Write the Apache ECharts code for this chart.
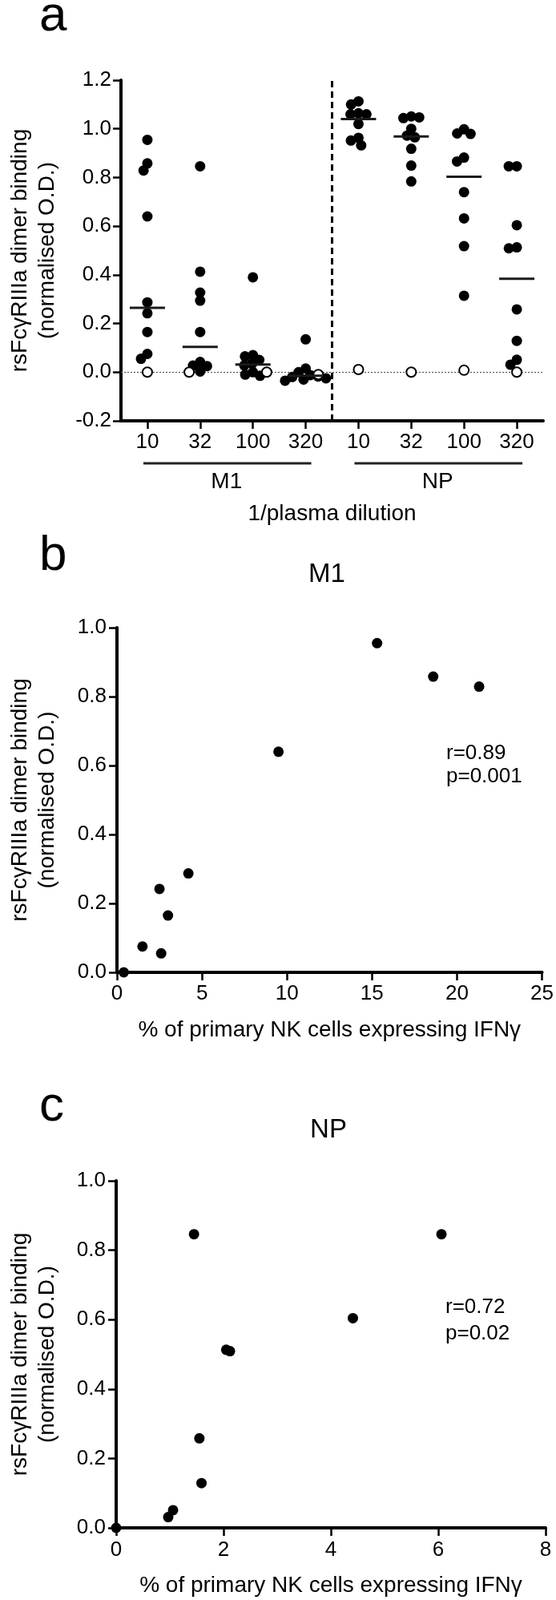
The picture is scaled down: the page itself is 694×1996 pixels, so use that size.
<!DOCTYPE html>
<html><head><meta charset="utf-8">
<script src="https://cdn.jsdelivr.net/npm/echarts@6/dist/echarts.min.js"></script>
<style>html,body{margin:0;padding:0;background:#fff}#c{width:694px;height:1996px}</style>
</head><body><div id="c"></div>
<script>
// ---------- data ----------
const dilutions = ['10', '32', '100', '320'];
const antigens = ['M1', 'NP'];
// panel a: normalised O.D. of plasma samples (filled circles)
const m1Dil10  = [0.955, 0.858, 0.829, 0.640, 0.287, 0.242, 0.165, 0.075, 0.055];
const m1Dil32  = [0.846, 0.413, 0.327, 0.294, 0.165, 0.042, 0.027, 0.025, 0.003];
const m1Dil100 = [0.390, 0.070, 0.065, 0.050, 0.035, 0.028, 0.000, -0.010, -0.015];
const m1Dil320 = [0.135, 0.015, 0.000, -0.012, -0.018, -0.020, -0.025, -0.030, -0.035];
const npDil10  = [1.113, 1.100, 1.064, 1.060, 1.060, 1.020, 0.963, 0.952, 0.932];
const npDil32  = [1.051, 1.047, 1.044, 1.000, 0.972, 0.965, 0.918, 0.849, 0.784];
const npDil100 = [0.998, 0.981, 0.979, 0.882, 0.866, 0.740, 0.632, 0.518, 0.314];
const npDil320 = [0.846, 0.846, 0.604, 0.513, 0.509, 0.258, 0.129, 0.051, 0.031];
// panel a: control sample (open circles), one per dilution
const m1Control = [0.000, 0.000, 0.000, -0.010];
const npControl = [0.011, 0.000, 0.008, 0.000];
// panel b: M1
const m1IfngPct = [0.4, 1.5, 2.5, 2.6, 3.0, 4.2, 9.5, 15.3, 18.6, 21.3];
const m1Binding = [0.000, 0.075, 0.242, 0.055, 0.165, 0.287, 0.640, 0.955, 0.858, 0.829];
// panel c: NP
const npIfngPct = [0.0, 0.97, 1.06, 1.45, 1.55, 1.59, 2.05, 2.12, 4.41, 6.06];
const npBinding = [0.000, 0.031, 0.051, 0.846, 0.258, 0.129, 0.513, 0.509, 0.604, 0.846];
const yTitle = 'rsFc\u03b3RIIIa dimer binding\n(normalised O.D.)';
const xTitle = '% of primary NK cells expressing IFN\u03b3';

// ---------- build ----------
const FONT = 'Liberation Sans, Arial, sans-serif';
const cats = [];
antigens.forEach(g => dilutions.forEach(d => cats.push(g + ' ' + d)));
const filledGroups = [m1Dil10, m1Dil32, m1Dil100, m1Dil320, npDil10, npDil32, npDil100, npDil320];
const controls = m1Control.concat(npControl);
const filledData = [], ctrlData = [], medianData = [];
filledGroups.forEach((vals, i) => {
  vals.forEach(v => filledData.push([cats[i], v]));
  ctrlData.push([cats[i], controls[i]]);
  const all = vals.concat([controls[i]]).sort((a, b) => a - b);
  const n = all.length;
  const med = n % 2 ? all[(n - 1) / 2] : (all[n / 2 - 1] + all[n / 2]) / 2;
  medianData.push([i, med]);
});
const zip = (a, b) => a.map((v, i) => [v, b[i]]);

const fmt1 = v => (Math.abs(v) < 1e-9 ? '0.0' : v.toFixed(1));
const axisLine = { show: true, onZero: false, lineStyle: { color: '#000', width: 4 } };
const axisTick = { show: true, length: 10, lineStyle: { color: '#000', width: 2.5 } };
const lbl = (fs, margin, extra) => Object.assign({ color: '#000', fontSize: fs, fontFamily: FONT, margin: margin }, extra || {});
const nameStyle = { color: '#000', fontSize: 28, fontFamily: FONT, lineHeight: 34 };
const dot = { color: '#000', opacity: 1 };

const option = {
  animation: false,
  backgroundColor: '#fff',
  textStyle: { fontFamily: FONT },
  grid: [
    { left: 142, top: 100, width: 536, height: 425 },
    { left: 137, top: 783, width: 542, height: 430 },
    { left: 136, top: 1473, width: 545, height: 437 }
  ],
  xAxis: [
    { type: 'category', gridIndex: 0, data: cats, boundaryGap: true,
      jitter: 60, jitterOverlap: false, jitterMargin: -3,
      axisLine: axisLine, axisTick: Object.assign({ alignWithLabel: true }, axisTick),
      axisLabel: lbl(26, 14, { formatter: v => v.split(' ')[1] }),
      splitLine: { show: false },
      name: '1/plasma dilution', nameLocation: 'middle', nameGap: 99, nameTextStyle: nameStyle },
    { type: 'value', gridIndex: 0, min: -0.5, max: cats.length - 0.5, show: false,
      axisLine: { onZero: false } },
    { type: 'value', gridIndex: 1, min: 0, max: 25, interval: 5,
      axisLine: axisLine, axisTick: axisTick, axisLabel: lbl(26, 14),
      splitLine: { show: false },
      name: xTitle, nameLocation: 'middle', nameGap: 55, nameTextStyle: nameStyle },
    { type: 'value', gridIndex: 2, min: 0, max: 8, interval: 2,
      axisLine: axisLine, axisTick: axisTick, axisLabel: lbl(26, 15),
      splitLine: { show: false },
      name: xTitle, nameLocation: 'middle', nameGap: 55, nameTextStyle: nameStyle }
  ],
  yAxis: [
    { type: 'value', gridIndex: 0, min: -0.2, max: 1.2, interval: 0.2,
      axisLine: axisLine, axisTick: axisTick, axisLabel: lbl(26, 12, { formatter: fmt1 }),
      splitLine: { show: false },
      name: yTitle, nameLocation: 'middle', nameGap: 75, nameTextStyle: nameStyle },
    { type: 'value', gridIndex: 1, min: 0, max: 1, interval: 0.2,
      axisLine: axisLine, axisTick: axisTick, axisLabel: lbl(26, 13, { formatter: fmt1 }),
      splitLine: { show: false },
      name: yTitle, nameLocation: 'middle', nameGap: 70, nameTextStyle: nameStyle },
    { type: 'value', gridIndex: 2, min: 0, max: 1, interval: 0.2,
      axisLine: axisLine, axisTick: axisTick, axisLabel: lbl(26, 13, { formatter: fmt1 }),
      splitLine: { show: false },
      name: yTitle, nameLocation: 'middle', nameGap: 69, nameTextStyle: nameStyle }
  ],
  series: [
    { type: 'scatter', name: 'median', xAxisIndex: 1, yAxisIndex: 0, data: medianData,
      symbol: 'rect', symbolSize: [44, 3], itemStyle: { color: '#1a1a1a', opacity: 1 }, z: 5, silent: true,
      markLine: { silent: true, symbol: ['none', 'none'], label: { show: false }, z: 1,
        data: [
          { yAxis: 0, lineStyle: { type: [2, 2], color: '#555', width: 1.2, opacity: 1 } },
          { xAxis: dilutions.length - 0.5, lineStyle: { type: [8, 5], color: '#000', width: 3, opacity: 1 } }
        ] } },
    { type: 'scatter', name: 'samples', xAxisIndex: 0, yAxisIndex: 0, data: filledData,
      symbolSize: 13, itemStyle: dot, z: 3 },
    { type: 'scatter', name: 'control', xAxisIndex: 0, yAxisIndex: 0, data: ctrlData,
      symbolSize: 12, itemStyle: { color: '#fff', borderColor: '#000', borderWidth: 2, opacity: 1 }, z: 4 },
    { type: 'scatter', name: 'M1', xAxisIndex: 2, yAxisIndex: 1, data: zip(m1IfngPct, m1Binding),
      symbolSize: 13, clip: false, itemStyle: dot, z: 3 },
    { type: 'scatter', name: 'NP', xAxisIndex: 3, yAxisIndex: 2, data: zip(npIfngPct, npBinding),
      symbolSize: 13, clip: false, itemStyle: dot, z: 3 }
  ]
};

const chart = echarts.init(document.getElementById('c'), null, { renderer: 'canvas' });
chart.setOption(option);

// ---------- annotations (x positions from the library's own scales) ----------
const txt = (text, x, y, fs, align) => ({ type: 'text', style: { text: text, x: x, y: y,
  fill: '#000', fontSize: fs, fontFamily: FONT, align: align || 'left', verticalAlign: 'middle' } });
const g = [];
const n = dilutions.length;
antigens.forEach((name, k) => {
  const x0 = chart.convertToPixel({ xAxisIndex: 1 }, k * n);
  const x1 = chart.convertToPixel({ xAxisIndex: 1 }, k * n + n - 1);
  g.push({ type: 'line', shape: { x1: x0 - 5, y1: 578, x2: x1 + 7, y2: 578 },
    style: { stroke: '#222', lineWidth: 3 } });
  g.push(txt(name, (x0 + x1) / 2, 601, 28, 'center'));
});
g.push(txt('a', 49, 21, 62));
g.push(txt('b', 49, 694, 62));
g.push(txt('c', 49, 1381, 62));
g.push(txt(antigens[0], 408, 717, 33, 'center'));
g.push(txt(antigens[1], 410, 1410, 33, 'center'));
g.push(txt('r=0.89', 557, 940, 26));
g.push(txt('p=0.001', 557, 969, 26));
g.push(txt('r=0.72', 556, 1631, 26));
g.push(txt('p=0.02', 556, 1664, 26));
chart.setOption({ graphic: g });
</script>
</body></html>
